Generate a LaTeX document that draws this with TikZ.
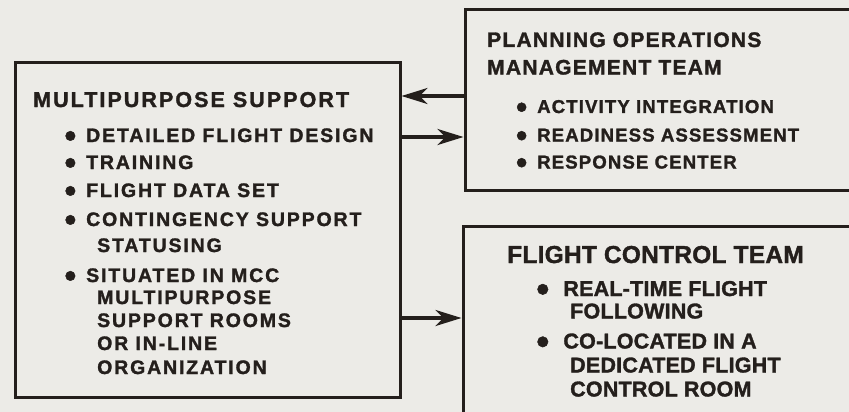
\documentclass[tikz,border=0pt]{standalone}
\usepackage{fontspec}
\usepackage{tikz}
\usetikzlibrary{arrows.meta, positioning}

\newfontfamily\mpsfont[LetterSpace=9.5, FakeBold=1.5]{Liberation Sans}
\newfontfamily\pomtfont[LetterSpace=6, FakeBold=1.5]{Liberation Sans}
\newfontfamily\fctfont[LetterSpace=1, FakeBold=1.5]{Liberation Sans}

\definecolor{paper}{RGB}{236,235,231}
\definecolor{ink}{RGB}{36,31,28}

% bullet hanging to the left of an item
\newcommand{\bul}[1][10pt]{\llap{\smash{\raisebox{-0.25em}{\scalebox{1.7}{\textbullet}}}\hspace{#1}}}

\begin{document}
\begin{tikzpicture}[
        x=1pt, y=-1pt,
        box/.style={rectangle, draw=ink, line width=3pt, inner sep=0pt},
        line/.style={anchor=base west, inner sep=0pt, text=ink},
        mpstitle/.style={line, font=\mpsfont\bfseries\fontsize{21.5}{26}\selectfont},
        mpsitem/.style={line, font=\mpsfont\bfseries\fontsize{19.5}{24}\selectfont},
        pomttitle/.style={line, font=\pomtfont\bfseries\fontsize{21}{26}\selectfont},
        pomtitem/.style={line, font=\pomtfont\bfseries\fontsize{18.6}{24}\selectfont},
        fcttitle/.style={line, font=\fctfont\bfseries\fontsize{24.5}{28}\selectfont},
        fctitem/.style={line, font=\fctfont\bfseries\fontsize{21.5}{26}\selectfont},
        flow/.style={draw=ink, line width=3.5pt, -{Stealth[length=26pt, width=16pt, inset=8pt]}}
    ]
        \useasboundingbox (0,0) rectangle (849,412);
        \clip (0,0) rectangle (849,412);
        \fill[paper] (0,0) rectangle (849,412);

        % Boxes
        \node[box, minimum width=385pt, minimum height=334pt] (mps) at (207.5,230) {};
        \node[box, minimum width=415pt, minimum height=180pt] (pomt) at (672.5,100) {};
        \node[box, minimum width=417pt, minimum height=214pt] (fct) at (671.5,333) {};

        % Multipurpose support
        \node[mpstitle] (mpsTitle) at (33,107) {MULTIPURPOSE SUPPORT};
        \node[mpsitem] (mpsA) at (86,142) {\bul DETAILED FLIGHT DESIGN};
        \node[mpsitem] (mpsB) at (86,169) {\bul TRAINING};
        \node[mpsitem] (mpsC) at (86,197) {\bul FLIGHT DATA SET};
        \node[mpsitem] (mpsD) at (86,226) {\bul CONTINGENCY SUPPORT};
        \node[mpsitem] (mpsDb) at (97,252) {STATUSING};
        \node[mpsitem] (mpsE) at (86,282) {\bul SITUATED IN MCC};
        \node[mpsitem] (mpsEb) at (97,304) {MULTIPURPOSE};
        \node[mpsitem] (mpsEc) at (97,327) {SUPPORT ROOMS};
        \node[mpsitem] (mpsEd) at (97,350) {OR IN-LINE};
        \node[mpsitem] (mpsEe) at (97,374) {ORGANIZATION};

        % Planning operations management team
        \node[pomttitle] (pomtTitleA) at (487,47) {PLANNING OPERATIONS};
        \node[pomttitle] (pomtTitleB) at (487,74.5) {MANAGEMENT TEAM};
        \node[pomtitem] (pomtA) at (537,113) {\bul ACTIVITY INTEGRATION};
        \node[pomtitem] (pomtB) at (537,141.5) {\bul READINESS ASSESSMENT};
        \node[pomtitem] (pomtC) at (537,168.5) {\bul RESPONSE CENTER};

        % Flight control team
        \node[fcttitle] (fctTitle) at (507,263) {FLIGHT CONTROL TEAM};
        \node[fctitem] (fctA) at (557,296) {\bul[8pt] REAL-TIME FLIGHT};
        \node[fctitem] (fctAb) at (570,318.5) {FOLLOWING};
        \node[fctitem] (fctB) at (557,348.5) {\bul[8pt] CO-LOCATED IN A};
        \node[fctitem] (fctBb) at (570,372.5) {DEDICATED FLIGHT};
        \node[fctitem] (fctBc) at (570,396.5) {CONTROL ROOM};

        % Connections
        \draw[flow] (pomt.west |- 0,96) -- (mps.east |- 0,96);
        \draw[flow] (mps.east |- 0,137) -- (pomt.west |- 0,137);
        \draw[flow] (mps.east |- 0,318) -- (fct.west |- 0,318);
    \end{tikzpicture}
\end{document}
